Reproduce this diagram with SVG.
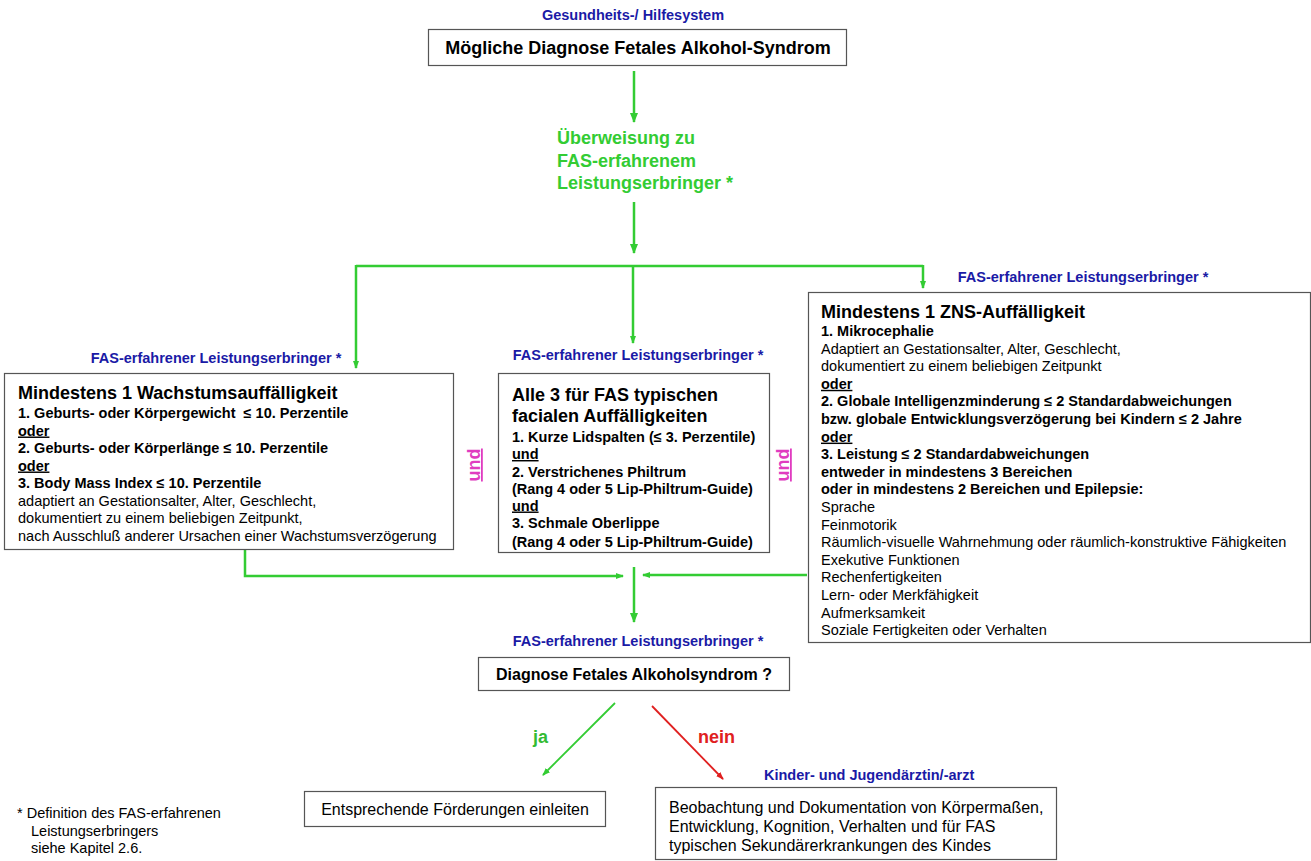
<svg xmlns="http://www.w3.org/2000/svg" width="1311" height="861" viewBox="0 0 1311 861">
<style>
text{font-family:"Liberation Sans",Arial,sans-serif;fill:#000}
.lbl{font-size:14.5px;font-weight:bold;fill:#1a1aa6}
.ttl{font-size:18px;font-weight:bold}
.b{font-size:14.5px;font-weight:bold}
.n{font-size:14.5px}
.u{text-decoration:underline}
.box{fill:#fff;stroke:#555;stroke-width:1.2}
.g{stroke:#33cc33;stroke-width:2.5;fill:none}
.und{font-size:18px;font-weight:bold;fill:#e03cc0;text-decoration:underline}
</style>
<defs>
<marker id="ag" markerUnits="userSpaceOnUse" markerWidth="10" markerHeight="10" refX="9" refY="5" orient="auto"><path d="M0,1 L10,5 L0,9 Z" fill="#33cc33"/></marker>
<marker id="ags" markerUnits="userSpaceOnUse" markerWidth="8" markerHeight="8" refX="7" refY="4" orient="auto"><path d="M0,1 L8,4 L0,7 Z" fill="#33cc33"/></marker>
<marker id="ar" markerUnits="userSpaceOnUse" markerWidth="8" markerHeight="8" refX="7" refY="4" orient="auto"><path d="M0,1 L8,4 L0,7 Z" fill="#e02020"/></marker>
</defs>
<rect width="1311" height="861" fill="#fff"/>

<g id="connectors">
<line class="g" x1="634" y1="71" x2="634" y2="122" marker-end="url(#ag)"/>
<line class="g" x1="634" y1="202" x2="634" y2="253" marker-end="url(#ag)"/>
<polyline class="g" points="356,266 923,266"/>
<line class="g" x1="356" y1="265" x2="356" y2="368" stroke-width="2" marker-end="url(#ags)"/>
<line class="g" x1="633" y1="266" x2="633" y2="343" stroke-width="2" marker-end="url(#ags)"/>
<line class="g" x1="923" y1="265" x2="923" y2="288" stroke-width="2" marker-end="url(#ags)"/>
<polyline class="g" points="245,550 245,576 623,576" stroke-width="2" marker-end="url(#ags)"/>
<line class="g" x1="807" y1="575" x2="643" y2="575" stroke-width="2" marker-end="url(#ags)"/>
<line class="g" x1="634" y1="567" x2="634" y2="622" marker-end="url(#ag)"/>
<line x1="615" y1="703" x2="543" y2="775" stroke="#33cc33" stroke-width="1.8" marker-end="url(#ags)"/>
<line x1="652" y1="706" x2="723" y2="779" stroke="#e02020" stroke-width="1.8" marker-end="url(#ar)"/>
<text x="533" y="743" style="font-size:18px;font-weight:bold;fill:#33bb33">ja</text>
<text x="698" y="743" style="font-size:18px;font-weight:bold;fill:#e02020">nein</text>
</g>

<g id="top">
<text class="lbl" x="633" y="20" text-anchor="middle">Gesundheits-/ Hilfesystem</text>
<rect class="box" x="428.5" y="29.5" width="418" height="36"/>
<text class="ttl" x="638" y="54" text-anchor="middle">Mögliche Diagnose Fetales Alkohol-Syndrom</text>
</g>

<g id="ueberweisung">
<text x="557" y="144" style="font-size:18px;font-weight:bold;fill:#33cc33">Überweisung zu</text>
<text x="557" y="166.5" style="font-size:18px;font-weight:bold;fill:#33cc33">FAS-erfahrenem</text>
<text x="557" y="189" style="font-size:18px;font-weight:bold;fill:#33cc33">Leistungserbringer *</text>
</g>

<g id="wachstum">
<text class="lbl" x="216" y="363" text-anchor="middle">FAS-erfahrener Leistungserbringer *</text>
<rect class="box" x="4.5" y="373.5" width="449" height="176"/>
<text class="ttl" x="18" y="399">Mindestens 1 Wachstumsauffälligkeit</text>
<text class="b" x="18" y="418">1. Geburts- oder Körpergewicht &#160;≤ 10. Perzentile</text>
<text class="b u" x="18" y="435.5">oder</text>
<text class="b" x="18" y="453">2. Geburts- oder Körperlänge ≤ 10. Perzentile</text>
<text class="b u" x="18" y="470.5">oder</text>
<text class="b" x="18" y="488">3. Body Mass Index ≤ 10. Perzentile</text>
<text class="n" x="18" y="505.5">adaptiert an Gestationsalter, Alter, Geschlecht,</text>
<text class="n" x="18" y="523">dokumentiert zu einem beliebigen Zeitpunkt,</text>
<text class="n" x="18" y="540.5">nach Ausschluß anderer Ursachen einer Wachstumsverzögerung</text>
</g>

<g id="und1"><text class="und" transform="translate(480,465) rotate(-90)" text-anchor="middle">und</text></g>
<g id="und2"><text class="und" transform="translate(789,465) rotate(-90)" text-anchor="middle">und</text></g>

<g id="facial">
<text class="lbl" x="638" y="360" text-anchor="middle">FAS-erfahrener Leistungserbringer *</text>
<rect class="box" x="498.5" y="373.5" width="271" height="179"/>
<text class="ttl" x="512" y="401">Alle 3 für FAS typischen</text>
<text class="ttl" x="512" y="422">facialen Auffälligkeiten</text>
<text class="b" x="512" y="442">1. Kurze Lidspalten (≤ 3. Perzentile)</text>
<text class="b u" x="512" y="459">und</text>
<text class="b" x="512" y="476.5">2. Verstrichenes Philtrum</text>
<text class="b" x="512" y="493.5">(Rang 4 oder 5 Lip-Philtrum-Guide)</text>
<text class="b u" x="512" y="510.5">und</text>
<text class="b" x="512" y="528">3. Schmale Oberlippe</text>
<text class="b" x="512" y="546.5">(Rang 4 oder 5 Lip-Philtrum-Guide)</text>
</g>

<g id="zns">
<text class="lbl" x="1083" y="282" text-anchor="middle">FAS-erfahrener Leistungserbringer *</text>
<rect class="box" x="808.5" y="292.5" width="502" height="350"/>
<text class="ttl" x="821" y="318">Mindestens 1 ZNS-Auffälligkeit</text>
<text class="b" x="821" y="336">1. Mikrocephalie</text>
<text class="n" x="821" y="353.6">Adaptiert an Gestationsalter, Alter, Geschlecht,</text>
<text class="n" x="821" y="371.2">dokumentiert zu einem beliebigen Zeitpunkt</text>
<text class="b u" x="821" y="388.8">oder</text>
<text class="b" x="821" y="406.4">2. Globale Intelligenzminderung ≤ 2 Standardabweichungen</text>
<text class="b" x="821" y="424">bzw. globale Entwicklungsverzögerung bei Kindern ≤ 2 Jahre</text>
<text class="b u" x="821" y="441.6">oder</text>
<text class="b" x="821" y="459.2">3. Leistung ≤ 2 Standardabweichungen</text>
<text class="b" x="821" y="476.8">entweder in mindestens 3 Bereichen</text>
<text class="b" x="821" y="494.4">oder in mindestens 2 Bereichen und Epilepsie:</text>
<text class="n" x="821" y="512">Sprache</text>
<text class="n" x="821" y="529.6">Feinmotorik</text>
<text class="n" x="821" y="547.2">Räumlich-visuelle Wahrnehmung oder räumlich-konstruktive Fähigkeiten</text>
<text class="n" x="821" y="564.8">Exekutive Funktionen</text>
<text class="n" x="821" y="582.4">Rechenfertigkeiten</text>
<text class="n" x="821" y="600">Lern- oder Merkfähigkeit</text>
<text class="n" x="821" y="617.6">Aufmerksamkeit</text>
<text class="n" x="821" y="635.2">Soziale Fertigkeiten oder Verhalten</text>
</g>

<g id="diagnose">
<text class="lbl" x="638" y="646" text-anchor="middle">FAS-erfahrener Leistungserbringer *</text>
<rect class="box" x="478.5" y="657.5" width="311" height="33"/>
<text x="634" y="680" text-anchor="middle" style="font-size:16px;font-weight:bold">Diagnose Fetales Alkoholsyndrom ?</text>
</g>

<g id="foerderung">
<rect class="box" x="304.5" y="791.5" width="301" height="35"/>
<text x="455" y="815" text-anchor="middle" style="font-size:16px">Entsprechende Förderungen einleiten</text>
</g>

<g id="beobachtung">
<text class="lbl" x="764" y="780">Kinder- und Jugendärztin/-arzt</text>
<rect class="box" x="655.5" y="787.5" width="401" height="72"/>
<text x="669" y="813" style="font-size:16px">Beobachtung und Dokumentation von Körpermaßen,</text>
<text x="669" y="832" style="font-size:16px">Entwicklung, Kognition, Verhalten und für FAS</text>
<text x="669" y="851" style="font-size:16px">typischen Sekundärerkrankungen des Kindes</text>
</g>

<g id="footnote">
<text class="n" x="17" y="818">* Definition des FAS-erfahrenen</text>
<text class="n" x="31" y="835.5">Leistungserbringers</text>
<text class="n" x="31" y="853">siehe Kapitel 2.6.</text>
</g>
</svg>
